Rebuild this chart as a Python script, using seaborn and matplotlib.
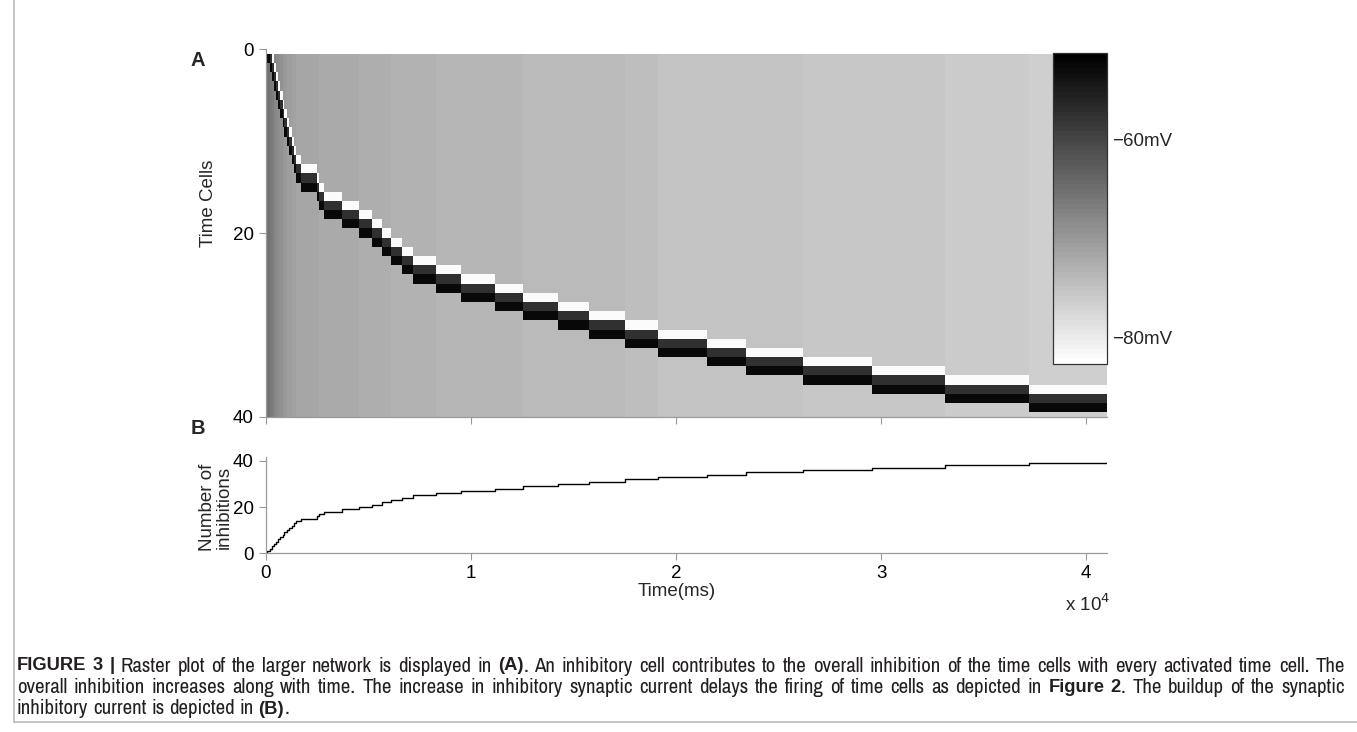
import numpy as np
import pandas as pd
import matplotlib
matplotlib.use("Agg")
import matplotlib.pyplot as plt
from matplotlib import font_manager as fm
from matplotlib.font_manager import FontProperties
from matplotlib.colors import ListedColormap
import seaborn as sns

# ---------------- data ----------------
n_cells = 40
t_end_ms = 41000
# time (ms) at which the n-th time cell fires (n = 1..39)
fire_times_ms = [80, 190, 300, 400, 500, 610, 700, 820, 910, 1020, 1150, 1270,
                 1380, 1480, 1720, 2500, 2580, 2840, 3707, 4551, 5171, 5659,
                 6112, 6634, 7200, 8293, 9527, 11185, 12566, 14244, 15737,
                 17527, 19102, 21512, 23415, 26176, 29561, 33137, 37234]
# membrane potential (mV) of the resting cells after n firings (n = 0..39)
background_mV = [-64.5, -65.4, -66.4, -67.0, -67.6, -68.3, -68.9, -69.4, -69.8,
                 -70.1, -70.5, -70.8, -71.1, -71.4, -71.6, -71.7, -71.9, -72.0,
                 -72.2, -72.3, -72.5, -72.7, -72.8, -73.0, -73.1, -73.3, -73.4,
                 -73.6, -73.8, -73.9, -74.1, -74.2, -74.5, -74.9, -75.2, -75.3,
                 -75.5, -75.8, -76.1, -76.4]
active_mV = -52.5      # cell that just fired
depol_mV = -57.5       # cell that fired one step before
reset_mV = -82.0       # cell that fired two steps before
v_min, v_max = -82.7, -51.3
cbar_ticks = [-80, -60]
cbar_ticklabels = ["\u221280mV", "\u221260mV"]
x_ticks = [0, 10000, 20000, 30000, 40000]
x_ticklabels = ["0", "1", "2", "3", "4"]
yA_ticks = [0, 20, 40]
yB_ticks = [0, 20, 40]
inhib_counts = list(range(0, 40))   # count after 0..39 firings

caption_lines = [
    [("FIGURE 3 |", True), (" Raster plot of the larger network is displayed in ", False),
     ("(A)", True), (". An inhibitory cell contributes to the overall inhibition of the time cells with every activated time cell. The", False)],
    [("overall inhibition increases along with time. The increase in inhibitory synaptic current delays the firing of time cells as depicted in ", False),
     ("Figure 2", True), (". The buildup of the synaptic", False)],
    [("inhibitory current is depicted in ", False), ("(B)", True), (".", False)],
]

# ---------------- style ----------------
sns.set_theme(style="ticks")
plt.rcParams["font.family"] = ["Liberation Sans", "DejaVu Sans"]
ttf = fm.fontManager.ttflist
avail = sorted({f.name for f in ttf})
narrow = [n for n in avail if ("Narrow" in n or "Condensed" in n)]
cap_family = "Liberation Sans Narrow" if "Liberation Sans Narrow" in avail else (narrow[0] if narrow else "Roboto")


def wnum(w):
    if isinstance(w, (int, float)):
        return w
    return fm.weight_dict.get(str(w).lower(), 400)


reg_files = [f.fname for f in ttf if f.name == cap_family and wnum(f.weight) < 600 and f.style == "normal"]
bold_files = [f.fname for f in ttf if f.name == cap_family and wnum(f.weight) >= 600 and f.style == "normal"]

W, H = 1357, 732
fig = plt.figure(figsize=(W / 100, H / 100), dpi=100)
fig.patch.set_facecolor("white")


def rect(l, t, r, b):
    return [l / W, 1 - b / H, (r - l) / W, (b - t) / H]


axA = fig.add_axes(rect(265.7, 49.3, 1106.7, 416.8))
axB = fig.add_axes(rect(265.7, 457.3, 1106.7, 553.3))

spine_col = "#9a9a9a"
tick_kw = dict(direction="out", length=5, width=0.8, color=spine_col,
               labelcolor="black", labelsize=13.5)

# ---------------- panel A : raster ----------------
t_edges = np.array([0] + fire_times_ms + [t_end_ms], dtype=float)
row_edges = np.arange(n_cells + 1) + 0.5
grid = np.zeros((n_cells, len(t_edges) - 1))
for n in range(len(t_edges) - 1):
    grid[:, n] = background_mV[n]
    if n >= 1:
        grid[n - 1, n] = active_mV
    if n >= 2:
        grid[n - 2, n] = depol_mV
    if n >= 3:
        grid[n - 3, n] = reset_mV

cmap = ListedColormap(plt.get_cmap("gray_r")(np.linspace(0, 1, 64)))
mesh = axA.pcolormesh(t_edges, row_edges, grid, cmap=cmap, vmin=v_min, vmax=v_max,
                      shading="flat")
axA.set_xlim(0, 41000)
axA.set_ylim(40, 0)
axA.set_xticks(x_ticks)
axA.set_xticklabels([])
axA.set_yticks(yA_ticks)
axA.tick_params(**tick_kw)
for s in ["top", "right"]:
    axA.spines[s].set_visible(False)
for s in ["left", "bottom"]:
    axA.spines[s].set_color(spine_col)
    axA.spines[s].set_linewidth(0.9)
axA.set_ylabel("Time Cells", fontsize=13.5)
axA.yaxis.set_label_coords(-0.058, 0.58)

cax = axA.inset_axes([(1053 - 265.7) / 841.0, (416.8 - 364) / 367.5,
                      54 / 841.0, (364 - 53.3) / 367.5])
cb = fig.colorbar(mesh, cax=cax)
cb.set_ticks(cbar_ticks)
cb.set_ticklabels(cbar_ticklabels)
cax.tick_params(direction="in", length=4, width=0.7, color="#555555",
                labelsize=13.5, left=True, right=True)
cb.outline.set_edgecolor("#333333")
cb.outline.set_linewidth(0.9)

# ---------------- panel B : inhibition count ----------------
steps = pd.DataFrame({"time": [0] + fire_times_ms + [t_end_ms],
                      "count": inhib_counts + [inhib_counts[-1]]})
sns.lineplot(data=steps, x="time", y="count", drawstyle="steps-post",
             color="black", linewidth=1.0, ax=axB, legend=False)
axB.set_xlim(0, 41000)
axB.set_ylim(0, 41.5)
axB.set_xticks(x_ticks)
axB.set_xticklabels(x_ticklabels)
axB.set_yticks(yB_ticks)
axB.tick_params(**tick_kw)
for s in ["top", "right"]:
    axB.spines[s].set_visible(False)
for s in ["left", "bottom"]:
    axB.spines[s].set_color(spine_col)
    axB.spines[s].set_linewidth(0.9)
axB.set_xlabel("")
axB.set_ylabel("")
fig.text(677 / W, 1 - 592 / H, "Time(ms)", ha="center", va="center", fontsize=13.5)
fig.text(1088 / W, 1 - 604 / H, r"x 10$^{4}$", ha="center", va="center", fontsize=13.5)
fig.text(216 / W, 1 - 507 / H, "Number of\ninhibitions", ha="center", va="center",
         rotation=90, fontsize=13.5, linespacing=0.95)

fig.text(198 / W, 1 - 60 / H, "A", ha="center", va="center", fontsize=14.5, fontweight="bold")
fig.text(198 / W, 1 - 428 / H, "B", ha="center", va="center", fontsize=14.5, fontweight="bold")

# ---------------- caption ----------------
frame_col = "#bbbbbb"
fig.add_artist(plt.Line2D([14 / W, 14 / W], [1 - 722 / H, 1.0], transform=fig.transFigure,
                          color=frame_col, linewidth=1.2))
fig.add_artist(plt.Line2D([14 / W, 1357 / W], [1 - 722 / H, 1 - 722 / H], transform=fig.transFigure,
                          color=frame_col, linewidth=1.2))
renderer = fig.canvas.get_renderer()
cap_col = "#231f20"
x_left, x_right = 17, 1345
line_y = [666, 687.5, 709]


def props(bold, size):
    if bold:
        if bold_files:
            return dict(fontproperties=FontProperties(fname=bold_files[0], size=size))
        return dict(fontproperties=FontProperties(family=["Liberation Sans", "DejaVu Sans"],
                                                  weight="bold", size=size * 0.88))
    if reg_files:
        return dict(fontproperties=FontProperties(fname=reg_files[0], size=size))
    return dict(fontproperties=FontProperties(family=[cap_family, "DejaVu Sans"], size=size))


def words_of(line):
    words = []
    cur = []
    for text, bold in line:
        parts = text.split(" ")
        for k, p in enumerate(parts):
            if k > 0:
                if cur:
                    words.append(cur)
                cur = []
            if p:
                cur.append((p, bold))
    if cur:
        words.append(cur)
    return words


def measure(seg, bold, size):
    t = fig.text(0, 0, seg, **props(bold, size))
    w = t.get_window_extent(renderer).width
    t.remove()
    return w


base = 10.0
sp = measure("a a", False, base) - 2 * measure("a", False, base)
nat = []
for line in caption_lines[:2]:
    ws = words_of(line)
    nat.append(sum(measure(s, b, base) for w in ws for s, b in w) + sp * (len(ws) - 1))
cap_size = base * 0.97 * (x_right - x_left) / max(nat)

space_w = measure("a a", False, cap_size) - 2 * measure("a", False, cap_size)
for li, line in enumerate(caption_lines):
    words = words_of(line)
    widths = [sum(measure(s, b, cap_size) for s, b in w) for w in words]
    justify = li < len(caption_lines) - 1
    gap = (x_right - x_left - sum(widths)) / (len(words) - 1) if justify else space_w
    x = x_left
    for w, wd in zip(words, widths):
        xx = x
        for s, b in w:
            fig.text(xx / W, 1 - line_y[li] / H, s, color=cap_col, ha="left", va="center",
                     **props(b, cap_size))
            xx += measure(s, b, cap_size)
        x += wd + gap

fig.savefig("out.png", dpi=100, facecolor="white")
